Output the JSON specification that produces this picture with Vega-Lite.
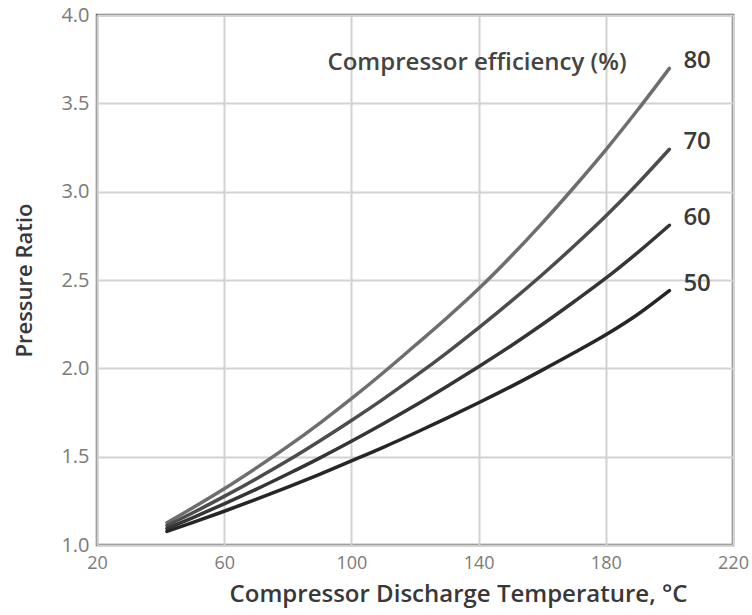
{
  "$schema": "https://vega.github.io/schema/vega-lite/v6.json",
  "width": 636,
  "height": 530,
  "autosize": {"type": "none"},
  "padding": {"left": 97, "top": 15, "right": 19, "bottom": 70},
  "background": "white",
  "config": {
    "view": {"stroke": "#6a6a6a", "strokeWidth": 2.5},
    "font": "Open Sans"
  },
  "datasets": {
    "curves": [
      {"T": 42, "eff": "80", "PR": 1.126}, {"T": 50, "eff": "80", "PR": 1.209}, {"T": 60, "eff": "80", "PR": 1.318}, {"T": 70, "eff": "80", "PR": 1.435}, {"T": 80, "eff": "80", "PR": 1.558}, {"T": 90, "eff": "80", "PR": 1.689}, {"T": 100, "eff": "80", "PR": 1.828}, {"T": 110, "eff": "80", "PR": 1.975}, {"T": 120, "eff": "80", "PR": 2.129}, {"T": 130, "eff": "80", "PR": 2.285}, {"T": 140, "eff": "80", "PR": 2.450}, {"T": 150, "eff": "80", "PR": 2.630}, {"T": 160, "eff": "80", "PR": 2.822}, {"T": 170, "eff": "80", "PR": 3.025}, {"T": 180, "eff": "80", "PR": 3.237}, {"T": 190, "eff": "80", "PR": 3.462}, {"T": 200, "eff": "80", "PR": 3.698},
      {"T": 42, "eff": "70", "PR": 1.110}, {"T": 50, "eff": "70", "PR": 1.181}, {"T": 60, "eff": "70", "PR": 1.275}, {"T": 70, "eff": "70", "PR": 1.374}, {"T": 80, "eff": "70", "PR": 1.478}, {"T": 90, "eff": "70", "PR": 1.589}, {"T": 100, "eff": "70", "PR": 1.705}, {"T": 110, "eff": "70", "PR": 1.826}, {"T": 120, "eff": "70", "PR": 1.954}, {"T": 130, "eff": "70", "PR": 2.088}, {"T": 140, "eff": "70", "PR": 2.229}, {"T": 150, "eff": "70", "PR": 2.376}, {"T": 160, "eff": "70", "PR": 2.530}, {"T": 170, "eff": "70", "PR": 2.692}, {"T": 180, "eff": "70", "PR": 2.862}, {"T": 190, "eff": "70", "PR": 3.045}, {"T": 200, "eff": "70", "PR": 3.240},
      {"T": 42, "eff": "60", "PR": 1.093}, {"T": 50, "eff": "60", "PR": 1.154}, {"T": 60, "eff": "60", "PR": 1.233}, {"T": 70, "eff": "60", "PR": 1.315}, {"T": 80, "eff": "60", "PR": 1.402}, {"T": 90, "eff": "60", "PR": 1.492}, {"T": 100, "eff": "60", "PR": 1.587}, {"T": 110, "eff": "60", "PR": 1.686}, {"T": 120, "eff": "60", "PR": 1.789}, {"T": 130, "eff": "60", "PR": 1.897}, {"T": 140, "eff": "60", "PR": 2.009}, {"T": 150, "eff": "60", "PR": 2.125}, {"T": 160, "eff": "60", "PR": 2.248}, {"T": 170, "eff": "60", "PR": 2.377}, {"T": 180, "eff": "60", "PR": 2.510}, {"T": 190, "eff": "60", "PR": 2.655}, {"T": 200, "eff": "60", "PR": 2.810},
      {"T": 42, "eff": "50", "PR": 1.077}, {"T": 50, "eff": "50", "PR": 1.127}, {"T": 60, "eff": "50", "PR": 1.191}, {"T": 70, "eff": "50", "PR": 1.258}, {"T": 80, "eff": "50", "PR": 1.328}, {"T": 90, "eff": "50", "PR": 1.400}, {"T": 100, "eff": "50", "PR": 1.476}, {"T": 110, "eff": "50", "PR": 1.553}, {"T": 120, "eff": "50", "PR": 1.634}, {"T": 130, "eff": "50", "PR": 1.718}, {"T": 140, "eff": "50", "PR": 1.805}, {"T": 150, "eff": "50", "PR": 1.895}, {"T": 160, "eff": "50", "PR": 1.990}, {"T": 170, "eff": "50", "PR": 2.088}, {"T": 180, "eff": "50", "PR": 2.190}, {"T": 190, "eff": "50", "PR": 2.305}, {"T": 200, "eff": "50", "PR": 2.440}
    ],
    "ends": [
      {"T": 200, "eff": "80", "PR": 3.698},
      {"T": 200, "eff": "70", "PR": 3.240},
      {"T": 200, "eff": "60", "PR": 2.810},
      {"T": 200, "eff": "50", "PR": 2.440}
    ],
    "note": [
      {"T": 139.5, "PR": 3.73, "text": "Compressor efficiency (%)"}
    ]
  },
  "layer": [
    {
      "data": {"name": "curves"},
      "mark": {"type": "line", "strokeWidth": 3.5, "strokeCap": "round", "interpolate": "monotone"},
      "encoding": {
        "x": {
          "field": "T", "type": "quantitative",
          "scale": {"domain": [20, 220], "nice": false, "zero": false},
          "axis": {
            "values": [20, 60, 100, 140, 180, 220],
            "title": "Compressor Discharge Temperature, °C",
            "ticks": false, "domain": false,
            "grid": true, "gridColor": "#d2d2d2", "gridWidth": 2,
            "labelFont": "Open Sans", "labelFontSize": 18, "labelColor": "#7a7a7a", "labelPadding": 9,
            "labelFlush": false,
            "titleFont": "Open Sans", "titleFontSize": 24, "titleFontWeight": 600, "titleColor": "#383838", "titlePadding": 10,
            "titleAnchor": "middle", "titleX": 361
          }
        },
        "y": {
          "field": "PR", "type": "quantitative",
          "scale": {"domain": [1, 4], "nice": false, "zero": false},
          "axis": {
            "values": [1, 1.5, 2, 2.5, 3, 3.5, 4],
            "format": ".1f",
            "title": "Pressure Ratio",
            "ticks": false, "domain": false,
            "grid": true, "gridColor": "#d2d2d2", "gridWidth": 2,
            "labelFont": "Open Sans", "labelFontSize": 20, "labelColor": "#7a7a7a", "labelPadding": 8,
            "labelFlush": false,
            "titleFont": "Open Sans", "titleFontSize": 22, "titleFontWeight": 600, "titleColor": "#383838", "titlePadding": 24
          }
        },
        "color": {
          "field": "eff", "type": "nominal",
          "scale": {"domain": ["80", "70", "60", "50"], "range": ["#6e6e6e", "#4c4c4c", "#353535", "#262626"]},
          "legend": null
        },
        "detail": {"field": "eff"}
      }
    },
    {
      "data": {"name": "ends"},
      "mark": {"type": "text", "align": "left", "baseline": "middle", "dx": 14, "dy": -7, "fontSize": 24, "fontWeight": 600, "font": "Open Sans", "color": "#3a3a3a"},
      "encoding": {
        "x": {"field": "T", "type": "quantitative"},
        "y": {"field": "PR", "type": "quantitative"},
        "text": {"field": "eff"}
      }
    },
    {
      "data": {"name": "note"},
      "mark": {"type": "text", "align": "center", "baseline": "middle", "fontSize": 24, "fontWeight": 600, "font": "Open Sans", "color": "#444444"},
      "encoding": {
        "x": {"field": "T", "type": "quantitative"},
        "y": {"field": "PR", "type": "quantitative"},
        "text": {"field": "text"}
      }
    }
  ]
}
